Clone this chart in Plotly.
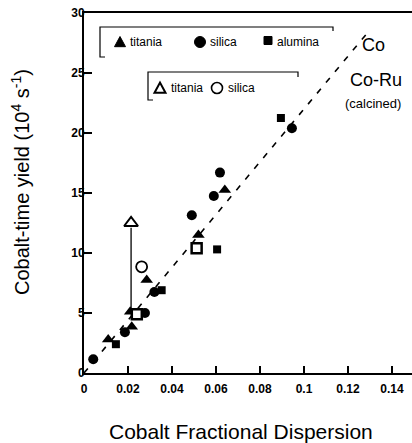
import plotly.graph_objects as go

# ---- data ----
co_titania_x = [0.011, 0.021, 0.0217, 0.0285, 0.052, 0.064]
co_titania_y = [2.8, 5.1, 3.85, 7.75, 11.5, 15.25]
co_silica_x = [0.0042, 0.0186, 0.0277, 0.032, 0.049, 0.059, 0.0618, 0.0945]
co_silica_y = [1.15, 3.4, 5.0, 6.75, 13.15, 14.75, 16.7, 20.4]
co_alumina_x = [0.0145, 0.0353, 0.0605, 0.0895]
co_alumina_y = [2.4, 6.9, 10.3, 21.25]
coru_titania_x = [0.0214]
coru_titania_y = [12.5]
coru_silica_x = [0.0262]
coru_silica_y = [8.85]
coru_alumina_x = [0.024, 0.0512]
coru_alumina_y = [4.9, 10.4]
arrow_x = [0.0214, 0.0214]
arrow_y = [5.1, 12.1]
trend_x = [0.0, 0.13]
trend_y = [0.0, 28.6]
x_ticks = [0, 0.02, 0.04, 0.06, 0.08, 0.1, 0.12, 0.14]
x_ticklabels = ["0", "0.02", "0.04", "0.06", "0.08", "0.1", "0.12", "0.14"]
y_ticks = [0, 5, 10, 15, 20, 25, 30]

# ---- geometry (window pixels; page body margin removed in post_script) ----
W, H = 412, 443
PLOT_L, PLOT_T, PLOT_B, PLOT_R = 84, 13, 373, 412
ML, MT, MB, MR = PLOT_L, PLOT_T, H - PLOT_B, W - PLOT_R
PW, PH = PLOT_R - PLOT_L, PLOT_B - PLOT_T


def px(x):
    return (x - PLOT_L) / PW


def py(y):
    return (PLOT_B - y) / PH


FONT = "Liberation Sans, Arial, sans-serif"
BLACK = "black"

fig = go.Figure()

fig.add_trace(go.Scatter(x=trend_x, y=trend_y, mode="lines",
                         line=dict(color=BLACK, width=1.6, dash="6px,8px"),
                         showlegend=False, hoverinfo="skip"))
fig.add_trace(go.Scatter(x=arrow_x, y=arrow_y, mode="lines",
                         line=dict(color=BLACK, width=1.3),
                         showlegend=False, hoverinfo="skip"))

fig.add_trace(go.Scatter(x=co_alumina_x, y=co_alumina_y, mode="markers", name="alumina",
                         marker=dict(symbol="square", size=8, color=BLACK)))
fig.add_trace(go.Scatter(x=co_silica_x, y=co_silica_y, mode="markers", name="silica",
                         marker=dict(symbol="circle", size=10, color=BLACK)))
fig.add_trace(go.Scatter(x=co_titania_x, y=co_titania_y, mode="markers", name="titania",
                         marker=dict(symbol="triangle-up", size=11, color=BLACK)))
fig.add_trace(go.Scatter(x=coru_alumina_x, y=coru_alumina_y, mode="markers", name="alumina (Co-Ru)",
                         marker=dict(symbol="square", size=10, color="white",
                                     line=dict(color=BLACK, width=2.5))))
fig.add_trace(go.Scatter(x=coru_silica_x, y=coru_silica_y, mode="markers", name="silica (Co-Ru)",
                         marker=dict(symbol="circle", size=11, color="white",
                                     line=dict(color=BLACK, width=1.8))))
fig.add_trace(go.Scatter(x=coru_titania_x, y=coru_titania_y, mode="markers", name="titania (Co-Ru)",
                         marker=dict(symbol="triangle-up", size=12, color="white",
                                     line=dict(color=BLACK, width=2))))

ann = []


def text(xp, yp, s, size=12, xanchor="left", **kw):
    ann.append(dict(x=px(xp), y=py(yp), xref="paper", yref="paper", text=s,
                    showarrow=False, xanchor=xanchor, yanchor="middle",
                    font=dict(family=FONT, size=size, color=BLACK), **kw))


shapes = []


def pshape(kind, cx, cy, r, filled, lw=1.0):
    fill = BLACK if filled else "white"
    line = dict(color=BLACK, width=lw)
    if kind == "circle":
        shapes.append(dict(type="circle", xref="paper", yref="paper",
                           x0=px(cx - r), x1=px(cx + r), y0=py(cy + r), y1=py(cy - r),
                           fillcolor=fill, line=line))
    elif kind == "square":
        shapes.append(dict(type="rect", xref="paper", yref="paper",
                           x0=px(cx - r), x1=px(cx + r), y0=py(cy + r), y1=py(cy - r),
                           fillcolor=fill, line=line))
    else:
        shapes.append(dict(type="path", xref="paper", yref="paper",
                           path=f"M {px(cx - r)} {py(cy + r * 0.85)} L {px(cx + r)} {py(cy + r * 0.85)} "
                                f"L {px(cx)} {py(cy - r)} Z",
                           fillcolor=fill, line=line))


# legend row 1 (Co)
pshape("triangle", 120, 42, 5.5, True)
text(128, 42, "titania", size=12)
pshape("circle", 200, 42, 5.5, True)
text(208, 42, "silica", size=12)
pshape("square", 268, 40.5, 4, True)
text(275, 42, "alumina", size=12)
# legend row 2 (Co-Ru)
pshape("triangle", 160, 88, 5.5, False, lw=2)
text(169, 88, "titania", size=12)
pshape("circle", 217, 88, 5.5, False, lw=1.6)
text(226, 88, "silica", size=12)
# series labels
text(373, 45, "Co", size=18, xanchor="center")
text(376, 80, "Co-Ru", size=18, xanchor="center")
text(373, 103, "(calcined)", size=13, xanchor="center")
# axis titles
text(20, 182, "Cobalt-time yield (10<sup>4</sup> s<sup>-1</sup>)", size=20,
     xanchor="center", textangle=-90)
text(241, 431, "Cobalt Fractional Dispersion", size=21, xanchor="center")

# legend box brackets
shapes.append(dict(type="path", xref="paper", yref="paper",
                   path=f"M {px(105)} {py(57)} L {px(100)} {py(57)} L {px(100)} {py(27)} "
                        f"L {px(333)} {py(27)} L {px(333)} {py(31)}",
                   line=dict(color=BLACK, width=1.2)))
shapes.append(dict(type="path", xref="paper", yref="paper",
                   path=f"M {px(153)} {py(100)} L {px(148)} {py(100)} L {px(148)} {py(72)} "
                        f"L {px(298)} {py(72)} L {px(298)} {py(77)}",
                   line=dict(color=BLACK, width=1.2)))

fig.update_layout(
    width=W, height=H,
    margin=dict(l=ML, r=MR, t=MT, b=MB, autoexpand=False),
    plot_bgcolor="white", paper_bgcolor="white",
    showlegend=False,
    font=dict(family=FONT, color=BLACK),
    annotations=ann, shapes=shapes,
    xaxis=dict(range=[0, PW / 2200], tickvals=x_ticks, ticktext=x_ticklabels,
               ticks="inside", ticklen=7, tickwidth=1.5, tickcolor=BLACK,
               showline=True, linecolor=BLACK, linewidth=2, mirror=True,
               showgrid=False, zeroline=False, ticklabelstandoff=4,
               tickfont=dict(family=FONT, size=12, weight="bold")),
    yaxis=dict(range=[0, 30], tickvals=y_ticks,
               ticks="inside", ticklen=8, tickwidth=1.5, tickcolor=BLACK,
               showline=True, linecolor=BLACK, linewidth=2,
               showgrid=False, zeroline=False, ticklabelstandoff=-5,
               ticklabeloverflow="allow",
               tickfont=dict(family=FONT, size=12, weight="bold")),
)

fig.write_html("out.html", config={"displayModeBar": False},
               post_script="document.body.style.margin='0';document.body.style.overflow='hidden';")
